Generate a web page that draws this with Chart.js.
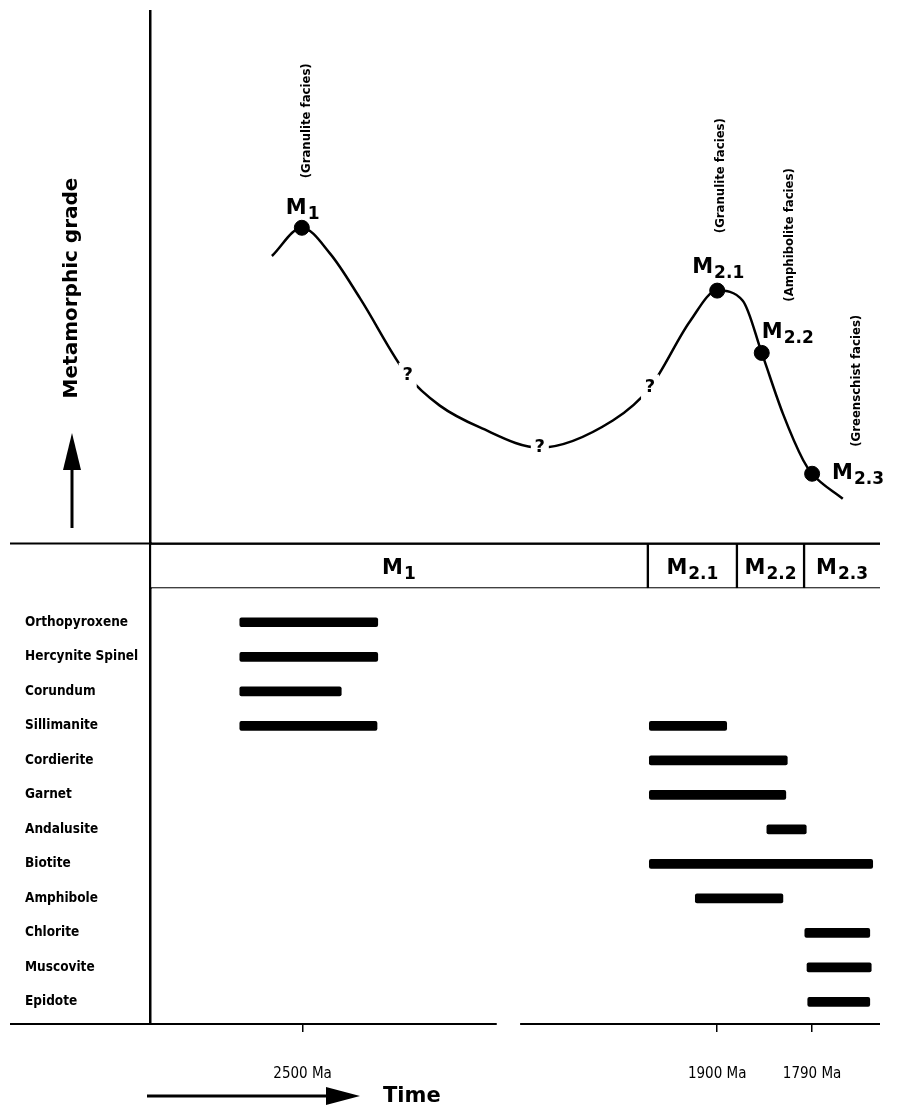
<!DOCTYPE html>
<html>
<head>
<meta charset="utf-8">
<script src="https://cdn.jsdelivr.net/npm/chart.js@4.4.1/dist/chart.umd.min.js"></script>
<style>
  body { margin: 0; background: #fff; }
  #wrap { width: 899px; height: 1108px; }
</style>
</head>
<body>
<div id="wrap"><canvas id="chart" width="899" height="1108"></canvas></div>
<script>
// time runs 0..100 along the (broken) time line, grade 0..10 (relative)
const curveTime  = [16.7, 20.8, 24.7, 28.8, 35.3, 39.7, 45.2, 53.4, 63.4, 68.5, 74.0, 77.7, 81.2, 83.8, 86.7, 89.5, 90.7, 94.9];
const curveGrade = [5.40, 5.93, 5.44, 4.60, 3.15, 2.59, 2.18, 1.80, 2.31, 2.93, 4.18, 4.75, 4.56, 3.58, 2.44, 1.56, 1.31, 0.84];

const eventNames = ['M1', 'M2.1', 'M2.2', 'M2.3'];
const eventTime  = [20.8, 77.7, 83.8, 90.7];
const eventGrade = [5.93, 4.75, 3.58, 1.31];
const faciesNames = ['(Granulite facies)', '(Granulite facies)', '(Amphibolite facies)', '(Greenschist facies)'];

const doubtTime  = [35.3, 53.4, 68.5];
const doubtGrade = [3.15, 1.80, 2.93];

const phaseNames = ['M1', 'M2.1', 'M2.2', 'M2.3'];
const phaseStart = [0, 68.2, 80.4, 89.6];
const phaseEnd   = [68.2, 80.4, 89.6, 100];

const minerals = ['Orthopyroxene', 'Hercynite Spinel', 'Corundum', 'Sillimanite', 'Cordierite', 'Garnet',
  'Andalusite', 'Biotite', 'Amphibole', 'Chlorite', 'Muscovite', 'Epidote'];
const barMineral = ['Orthopyroxene', 'Hercynite Spinel', 'Corundum', 'Sillimanite', 'Sillimanite', 'Cordierite',
  'Garnet', 'Andalusite', 'Biotite', 'Amphibole', 'Chlorite', 'Muscovite', 'Epidote'];
const barStart = [12.3, 12.3, 12.3, 12.3, 68.4, 68.4, 68.4, 84.5, 68.4, 74.7, 89.7, 90.0, 90.1];
const barEnd   = [31.2, 31.2, 26.2, 31.1, 79.0, 87.3, 87.1, 89.9, 99.0, 86.7, 98.6, 98.8, 98.6];

const tickTime   = [20.9, 77.7, 90.7];
const tickLabels = ['2500 Ma', '1900 Ma', '1790 Ma'];
const axisBreak  = [47.5, 50.7];

// label placement (pixels, relative to the event points)
const eventLabelOffset = [[-16, -14], [-25, -18], [0, -15], [20, 5]];
const faciesOffset = [[5, -107], [3, -115], [28, -118], [45, -93]];

const COND = "'DejaVu Sans Condensed', 'Liberation Sans Narrow', 'DejaVu Sans', sans-serif";
const BOLD = "'DejaVu Sans', sans-serif";

function drawSub(ctx, label, x, y, align) {
  const main = label[0], sub = label.slice(1);
  ctx.font = 'bold 21px ' + BOLD;
  const w1 = ctx.measureText(main).width;
  ctx.font = 'bold 17px ' + BOLD;
  const w2 = ctx.measureText(sub).width;
  const x0 = align === 'center' ? x - (w1 + w2 + 1) / 2 : x;
  ctx.textAlign = 'left';
  ctx.textBaseline = 'alphabetic';
  ctx.font = 'bold 21px ' + BOLD;
  ctx.fillText(main, x0, y);
  ctx.font = 'bold 17px ' + BOLD;
  ctx.fillText(sub, x0 + w1 + 1, y + 5);
}

const decorations = {
  id: 'decorations',
  afterDatasetsDraw(chart) {
    const {ctx, scales: {x, yGrade, yHead, yMin}} = chart;
    ctx.save();
    ctx.fillStyle = '#000';
    ctx.strokeStyle = '#000';

    // question marks on the uncertain part of the path
    doubtTime.forEach((t, i) => {
      const px = x.getPixelForValue(t), py = yGrade.getPixelForValue(doubtGrade[i]);
      ctx.fillStyle = '#fff';
      ctx.fillRect(px - 9, py - 13, 18, 26);
      ctx.fillStyle = '#000';
      ctx.font = 'bold 18px ' + BOLD;
      ctx.textAlign = 'center';
      ctx.textBaseline = 'middle';
      ctx.fillText('?', px, py);
    });

    // event labels and facies notes
    eventNames.forEach((n, i) => {
      const px = x.getPixelForValue(eventTime[i]), py = yGrade.getPixelForValue(eventGrade[i]);
      drawSub(ctx, n, px + eventLabelOffset[i][0], py + eventLabelOffset[i][1], 'left');
      ctx.save();
      ctx.translate(px + faciesOffset[i][0], py + faciesOffset[i][1]);
      ctx.rotate(-Math.PI / 2);
      ctx.font = 'bold 13px ' + COND;
      ctx.textAlign = 'center';
      ctx.textBaseline = 'middle';
      ctx.fillText(faciesNames[i], 0, 0);
      ctx.restore();
    });

    // phase header labels
    phaseNames.forEach((n, i) => {
      const cx = (x.getPixelForValue(phaseStart[i]) + x.getPixelForValue(phaseEnd[i])) / 2;
      const cy = (yHead.top + yHead.bottom) / 2;
      drawSub(ctx, n, cx, cy + 8, 'center');
    });

    // long horizontal rule above the header
    ctx.lineWidth = 2;
    ctx.beginPath();
    ctx.moveTo(10, yHead.top);
    ctx.lineTo(x.right, yHead.top);
    ctx.stroke();

    // broken time axis
    const by = yMin.bottom;
    ctx.beginPath();
    ctx.moveTo(10, by);
    ctx.lineTo(x.getPixelForValue(axisBreak[0]), by);
    ctx.moveTo(x.getPixelForValue(axisBreak[1]), by);
    ctx.lineTo(x.right, by);
    ctx.stroke();

    // vertical title with arrow
    ctx.save();
    ctx.translate(72, 288);
    ctx.rotate(-Math.PI / 2);
    ctx.font = 'bold 20px ' + BOLD;
    ctx.textAlign = 'center';
    ctx.textBaseline = 'middle';
    ctx.fillText('Metamorphic grade', 0, 0);
    ctx.restore();
    ctx.lineWidth = 3;
    ctx.beginPath();
    ctx.moveTo(72, 528);
    ctx.lineTo(72, 465);
    ctx.stroke();
    ctx.beginPath();
    ctx.moveTo(72, 433);
    ctx.lineTo(81, 470);
    ctx.lineTo(63, 470);
    ctx.closePath();
    ctx.fill();

    // time arrow
    ctx.beginPath();
    ctx.moveTo(147, 1096);
    ctx.lineTo(332, 1096);
    ctx.stroke();
    ctx.beginPath();
    ctx.moveTo(360, 1096);
    ctx.lineTo(326, 1087);
    ctx.lineTo(326, 1105);
    ctx.closePath();
    ctx.fill();
    ctx.font = 'bold 21px ' + BOLD;
    ctx.textAlign = 'left';
    ctx.textBaseline = 'middle';
    ctx.fillText('Time', 383, 1097);

    ctx.restore();
  }
};

const axisBorder = {display: true, color: '#000', width: 2.5};

new Chart(document.getElementById('chart'), {
  type: 'bar',
  data: {
    datasets: [
      {
        type: 'line',
        label: 'Metamorphic grade',
        data: curveTime.map((t, i) => ({x: t, y: curveGrade[i]})),
        xAxisID: 'x',
        yAxisID: 'yGrade',
        borderColor: '#000',
        borderWidth: 2.5,
        pointRadius: 0,
        cubicInterpolationMode: 'monotone',
        fill: false,
        order: 1
      },
      {
        type: 'scatter',
        label: 'Events',
        data: eventTime.map((t, i) => ({x: t, y: eventGrade[i]})),
        xAxisID: 'x',
        yAxisID: 'yGrade',
        pointRadius: 7.5,
        backgroundColor: '#000',
        borderColor: '#000',
        order: 0
      },
      {
        type: 'bar',
        label: 'Phases',
        indexAxis: 'y',
        data: phaseNames.map((n, i) => ({x: [phaseStart[i], phaseEnd[i]], y: 'phase'})),
        xAxisID: 'x',
        yAxisID: 'yHead',
        backgroundColor: '#fff',
        borderColor: '#000',
        borderWidth: 1.5,
        borderSkipped: ctx => ctx.dataIndex === phaseNames.length - 1 ? 'right' : false,
        barPercentage: 1,
        categoryPercentage: 1,
        grouped: false,
        order: 3
      },
      {
        type: 'bar',
        label: 'Minerals',
        indexAxis: 'y',
        data: barMineral.map((m, i) => ({x: [barStart[i], barEnd[i]], y: minerals.indexOf(m)})),
        xAxisID: 'x',
        yAxisID: 'yMin',
        backgroundColor: '#000',
        borderWidth: 0,
        borderRadius: 2,
        borderSkipped: false,
        barThickness: 9,
        grouped: false,
        order: 2
      }
    ]
  },
  options: {
    responsive: false,
    animation: false,
    events: [],
    layout: {padding: {left: 25, right: 19, top: 10, bottom: 0}},
    plugins: {legend: {display: false}, tooltip: {enabled: false}},
    scales: {
      x: {
        type: 'linear',
        position: 'bottom',
        min: 0,
        max: 100,
        offset: false,
        border: {display: false},
        grid: {display: true, offset: false, drawOnChartArea: false, drawTicks: true, tickLength: 8, color: '#000', lineWidth: 1.5},
        afterBuildTicks: s => { s.ticks = tickTime.map(v => ({value: v})); },
        afterFit: s => { s.height = 84; },
        ticks: {
          autoSkip: false,
          maxRotation: 0,
          padding: 33,
          color: '#000',
          font: {family: COND, size: 15},
          callback: (v, i) => tickLabels[i]
        }
      },
      yGrade: {
        type: 'linear',
        position: 'left',
        stack: 'left',
        stackWeight: 533,
        weight: 3,
        min: 0,
        max: 10,
        offset: false,
        border: axisBorder,
        grid: {display: false},
        ticks: {display: false},
        afterFit: s => { s.width = 125; }
      },
      yHead: {
        type: 'category',
        labels: ['phase'],
        position: 'left',
        stack: 'left',
        stackWeight: 45,
        weight: 2,
        offset: true,
        border: axisBorder,
        grid: {display: false},
        ticks: {display: false},
        afterFit: s => { s.width = 125; }
      },
      yMin: {
        type: 'linear',
        position: 'left',
        stack: 'left',
        stackWeight: 436,
        weight: 1,
        reverse: true,
        min: -0.98,
        max: 11.64,
        offset: false,
        border: axisBorder,
        grid: {display: false, offset: false},
        afterBuildTicks: s => { s.ticks = minerals.map((m, i) => ({value: i})); },
        afterFit: s => { s.width = 125; },
        ticks: {
          autoSkip: false,
          crossAlign: 'far',
          color: '#000',
          font: {family: COND, size: 13.5, weight: 'bold'},
          callback: v => minerals[v]
        }
      }
    }
  },
  plugins: [decorations]
});
</script>
</body>
</html>
